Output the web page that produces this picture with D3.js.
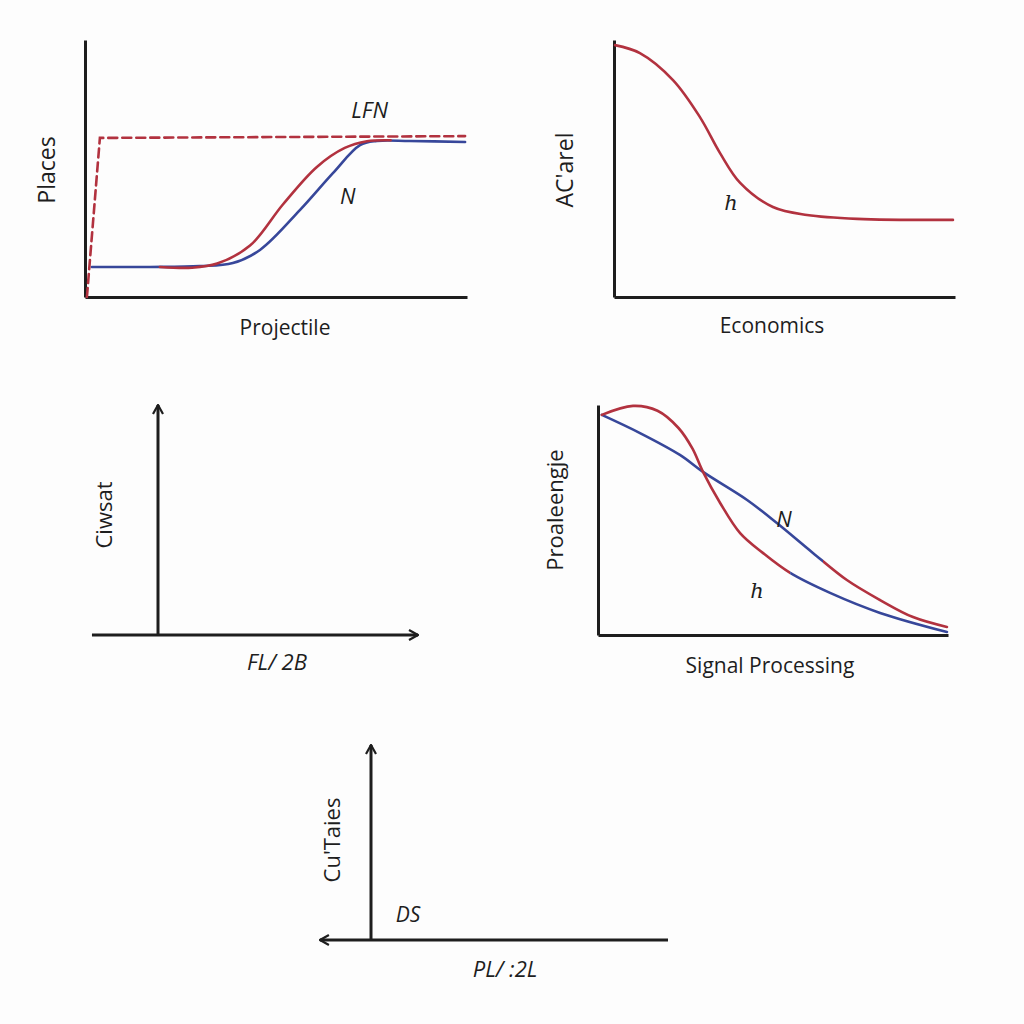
<!DOCTYPE html>
<html><head><meta charset="utf-8">
<script src="https://cdn.jsdelivr.net/npm/d3@7"></script>
<style>
html,body{margin:0;padding:0;background:#fdfdfd;}
svg{display:block;}
</style></head>
<body>
<svg id="c" width="1024" height="1024"></svg>
<script>
// ---- Data (x, y in 0..100 units) ----
// Panel 1: Projectile
const p1Dashed = [[0.5,0],[3.9,61.9],[99.5,62.6]];
const p1Blue = [[1.8,11.7],[17,11.7],[30,12.0],[38.7,13.2],[45.8,18.3],[56.3,33.9],[64.9,48.2],[72,59.1],[76.4,60.7],[85,60.7],[99.5,60.3]];
const p1Red = [[19.6,11.7],[28,11.4],[34.6,13.0],[43.2,20.0],[51.8,36.0],[60.7,50.6],[68,58.0],[73.8,60.6],[80,61.0]];
const p1Labels = ["LFN","N"];
// Panel 2: Economics
const p2Red = [[0.3,98],[7.6,94.9],[17.3,84.4],[25.2,70],[31.1,56],[37,44.4],[46.6,35],[56.6,31.9],[71.3,30.4],[99.4,30]];
const p2Labels = ["h"];
// Panel 4: Signal Processing (each curve changes colour part way)
const p4Steep = [[1.1,95.7],[10,99.6],[17,97.5],[23,90],[27,81],[30,70.9],[34.9,57.4],[40.6,44.3],[47.1,35.7],[54.9,27],[66.3,18.3],[80.6,9.6],[99.7,1.3]];
const p4SteepSwitch = 54.9;   // red before, blue after
const p4Gradual = [[1.1,95.7],[12,87.8],[23.4,78.3],[30,70.9],[42.6,58.7],[51.1,48.7],[61.4,35.7],[71.1,23.9],[80.6,15.2],[90,7.8],[99.7,3.5]];
const p4GradualSwitch = 64.3; // blue before, red after
const p4Labels = ["N","h"];
// Axis titles
const xTitles = ["Projectile","Economics","FL/ 2B","Signal Processing","PL/ :2L"];
const yTitles = ["Places","AC'arel","Ciwsat","Proaleengje","Cu'Taies"];
const p5Labels = ["DS"];

const svg = d3.select("#c");
const RED = "#b2323f", BLUE = "#37479a", INK = "#1e1e1e";
const SANS = "'Open Sans', 'Noto Sans', sans-serif";
const SMOOTH = d3.curveCatmullRom.alpha(0.5);

const defs = svg.append("defs");
defs.append("marker")
  .attr("id","arr").attr("viewBox","0 0 12 12").attr("refX",11).attr("refY",6)
  .attr("markerWidth",12).attr("markerHeight",12).attr("markerUnits","userSpaceOnUse")
  .attr("orient","auto-start-reverse")
  .append("path").attr("d","M2,1 L11,6 L2,11").attr("fill","none").attr("stroke",INK).attr("stroke-width",2.2);

function axesPlain(x, y){
  const gx = svg.append("g").attr("transform",`translate(0,${y.range()[0]})`)
    .call(d3.axisBottom(x).tickValues([]).tickSizeOuter(0));
  const gy = svg.append("g").attr("transform",`translate(${x.range()[0]},0)`)
    .call(d3.axisLeft(y).tickValues([]).tickSizeOuter(0));
  [gx,gy].forEach(g=>g.select(".domain").attr("stroke",INK).attr("stroke-width",3));
}
function drawLine(x,y,data,color,dash,curve,clip){
  const ln = d3.line().x(d=>x(d[0])).y(d=>y(d[1])).curve(curve||SMOOTH);
  svg.append("path").datum(data).attr("d",ln).attr("fill","none")
    .attr("stroke",color).attr("stroke-width",2.6).attr("stroke-linecap","round")
    .attr("stroke-dasharray",dash||null)
    .attr("clip-path",clip?`url(#${clip})`:null);
}
function clipRect(id,x0,x1){
  defs.append("clipPath").attr("id",id).append("rect")
    .attr("x",x0).attr("y",0).attr("width",x1-x0).attr("height",1024);
}
function xTitle(t,cx,cy,size,ital){
  svg.append("text").attr("x",cx).attr("y",cy).attr("text-anchor","middle")
    .attr("font-family",SANS).attr("font-size",size||21).attr("fill",INK)
    .attr("font-style",ital?"italic":"normal").text(t);
}
function yTitle(t,cx,cy,size){
  svg.append("text").attr("transform",`translate(${cx},${cy}) rotate(-90)`)
    .attr("text-anchor","middle").attr("font-family",SANS).attr("font-size",size||22)
    .attr("fill",INK).text(t);
}
function label(t,px,py,serif,size){
  svg.append("text").attr("x",px).attr("y",py).attr("text-anchor","middle")
    .attr("font-family",serif?"'DejaVu Serif', 'Liberation Serif', serif":SANS)
    .attr("font-style","italic").attr("font-size",size||22).attr("fill",INK).text(t);
}

// Panel 1
{
  const x = d3.scaleLinear().domain([0,100]).range([85,467]);
  const y = d3.scaleLinear().domain([0,100]).range([297,40]);
  axesPlain(x,y);
  drawLine(x,y,p1Blue,BLUE);
  drawLine(x,y,p1Red,RED);
  drawLine(x,y,p1Dashed,RED,"9,5",d3.curveLinear);
  label(p1Labels[0], x(74.5), y(69.5), false, 22);
  label(p1Labels[1], x(68.8), y(36), false, 22);
  xTitle(xTitles[0], 285, 335, 21);
  yTitle(yTitles[0], 55, 170, 23);
}
// Panel 2
{
  const x = d3.scaleLinear().domain([0,100]).range([614,955]);
  const y = d3.scaleLinear().domain([0,100]).range([297,40]);
  axesPlain(x,y);
  drawLine(x,y,p2Red,RED);
  label(p2Labels[0], 731, 210, true, 21);
  xTitle(xTitles[1], 772, 333, 21);
  yTitle(yTitles[1], 573, 170, 23);
}
// Panel 3
{
  const x = d3.scaleLinear().domain([0,100]).range([158,418]);
  const y = d3.scaleLinear().domain([0,100]).range([635,405]);
  svg.append("line").attr("x1",x(-25.4)).attr("x2",x(100)).attr("y1",y(0)).attr("y2",y(0))
    .attr("stroke",INK).attr("stroke-width",3).attr("marker-end","url(#arr)");
  svg.append("line").attr("x1",x(0)).attr("x2",x(0)).attr("y1",y(0)).attr("y2",y(100))
    .attr("stroke",INK).attr("stroke-width",3).attr("marker-end","url(#arr)");
  xTitle(xTitles[2], 277, 670, 22, true);
  yTitle(yTitles[2], 112, 515, 22);
}
// Panel 4
{
  const x = d3.scaleLinear().domain([0,100]).range([598,948]);
  const y = d3.scaleLinear().domain([0,100]).range([635,405]);
  axesPlain(x,y);
  clipRect("sL", 0, x(p4SteepSwitch));
  clipRect("sR", x(p4SteepSwitch), 1024);
  clipRect("gL", 0, x(p4GradualSwitch));
  clipRect("gR", x(p4GradualSwitch), 1024);
  drawLine(x,y,p4Gradual,BLUE,null,null,"gL");
  drawLine(x,y,p4Gradual,RED,null,null,"gR");
  drawLine(x,y,p4Steep,RED,null,null,"sL");
  drawLine(x,y,p4Steep,BLUE,null,null,"sR");
  label(p4Labels[0], 784, 527, false, 22);
  label(p4Labels[1], 757, 598, true, 21);
  xTitle(xTitles[3], 770, 673, 21);
  yTitle(yTitles[3], 563, 510, 22);
}
// Panel 5
{
  const x = d3.scaleLinear().domain([0,100]).range([371,668]);
  const y = d3.scaleLinear().domain([0,100]).range([940,745]);
  svg.append("line").attr("x1",x(100)).attr("x2",x(-17.2)).attr("y1",y(0)).attr("y2",y(0))
    .attr("stroke",INK).attr("stroke-width",3).attr("marker-end","url(#arr)");
  svg.append("line").attr("x1",x(0)).attr("x2",x(0)).attr("y1",y(0)).attr("y2",y(100))
    .attr("stroke",INK).attr("stroke-width",3).attr("marker-end","url(#arr)");
  label(p5Labels[0], 408, 922, false, 21);
  xTitle(xTitles[4], 505, 977, 22, true);
  yTitle(yTitles[4], 340, 840, 22);
}
</script>
</body></html>
